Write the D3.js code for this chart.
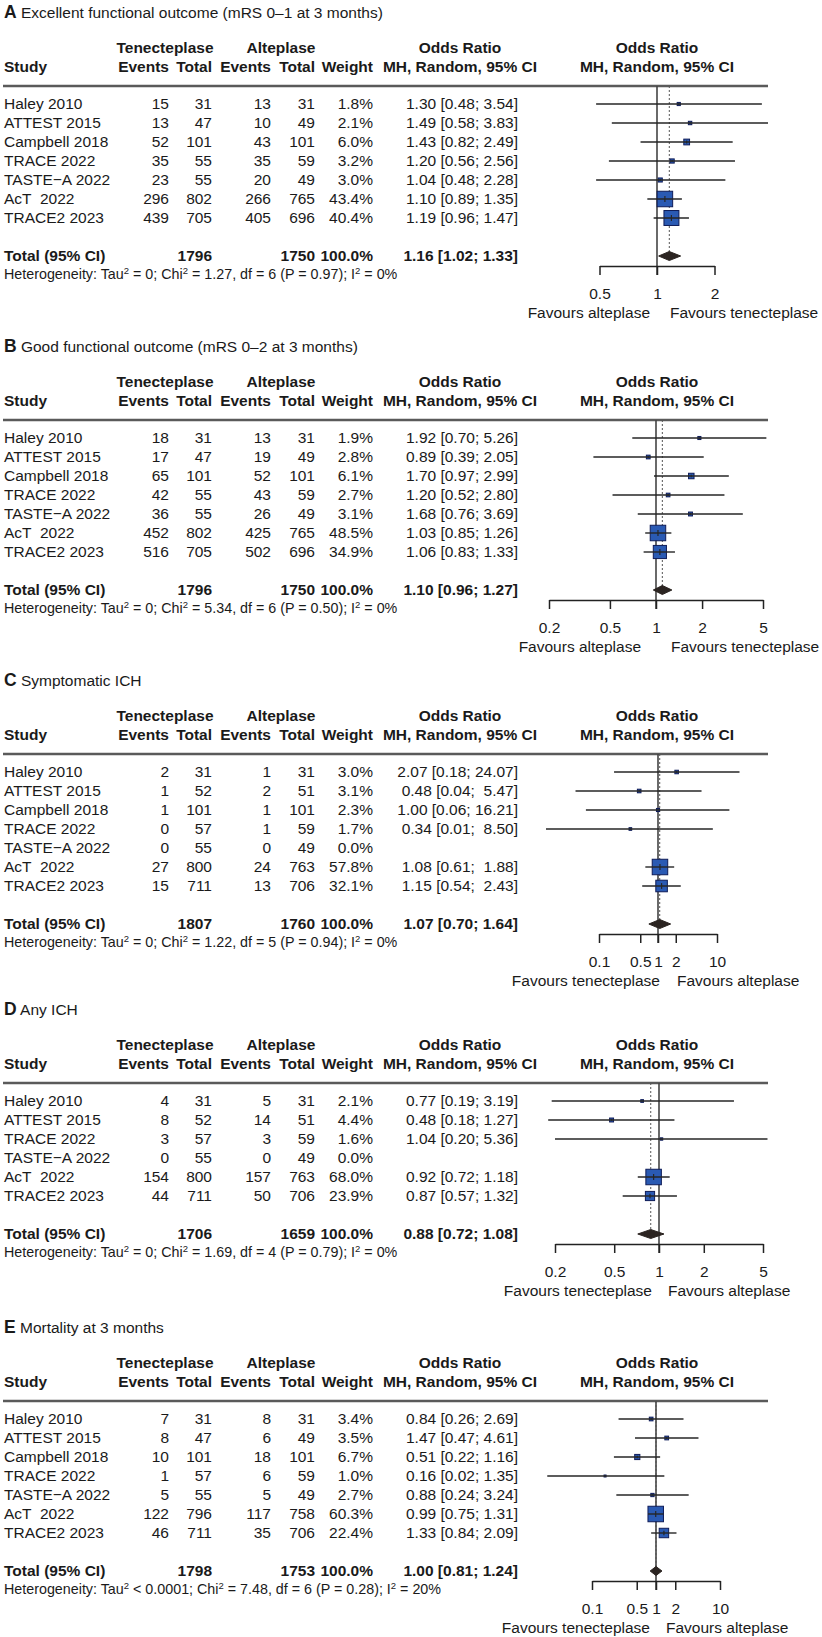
<!DOCTYPE html>
<html>
<head>
<meta charset="utf-8">
<script src="https://cdn.jsdelivr.net/npm/d3@7"></script>
<style>
  body { margin: 0; background: #fff; }
  text { font-family: 'Liberation Sans', Arial, sans-serif; fill: #1a1a1a; white-space: pre; }
</style>
</head>
<body>
<div id="chart"></div>
<script>
/* global d3 */

// ---- data ----
const letters = ['A', 'B', 'C', 'D', 'E']
const titles = [
  'Excellent functional outcome (mRS 0–1 at 3 months)',
  'Good functional outcome (mRS 0–2 at 3 months)',
  'Symptomatic ICH',
  'Any ICH',
  'Mortality at 3 months'
]

const studies7 = ['Haley 2010', 'ATTEST 2015', 'Campbell 2018', 'TRACE 2022', 'TASTE−A 2022', 'AcT  2022', 'TRACE2 2023']
const studies6 = ['Haley 2010', 'ATTEST 2015', 'TRACE 2022', 'TASTE−A 2022', 'AcT  2022', 'TRACE2 2023']

// A - excellent outcome
const evTnkA = [15, 13, 52, 35, 23, 296, 439]
const nTnkA = [31, 47, 101, 55, 55, 802, 705]
const evAltA = [13, 10, 43, 35, 20, 266, 405]
const nAltA = [31, 49, 101, 59, 49, 765, 696]
const weightA = [1.8, 2.1, 6.0, 3.2, 3.0, 43.4, 40.4]
const orA = [1.30, 1.49, 1.43, 1.20, 1.04, 1.10, 1.19]
const loA = [0.48, 0.58, 0.82, 0.56, 0.48, 0.89, 0.96]
const hiA = [3.54, 3.83, 2.49, 2.56, 2.28, 1.35, 1.47]
const totalA = [1796, 1750]
const pooledA = [1.16, 1.02, 1.33]
const hetA = ['= 0', '1.27', '6', '0.97', '0%']
const ticksA = [0.5, 1, 2]

// B - good outcome
const evTnkB = [18, 17, 65, 42, 36, 452, 516]
const nTnkB = [31, 47, 101, 55, 55, 802, 705]
const evAltB = [13, 19, 52, 43, 26, 425, 502]
const nAltB = [31, 49, 101, 59, 49, 765, 696]
const weightB = [1.9, 2.8, 6.1, 2.7, 3.1, 48.5, 34.9]
const orB = [1.92, 0.89, 1.70, 1.20, 1.68, 1.03, 1.06]
const loB = [0.70, 0.39, 0.97, 0.52, 0.76, 0.85, 0.83]
const hiB = [5.26, 2.05, 2.99, 2.80, 3.69, 1.26, 1.33]
const totalB = [1796, 1750]
const pooledB = [1.10, 0.96, 1.27]
const hetB = ['= 0', '5.34', '6', '0.50', '0%']
const ticksB = [0.2, 0.5, 1, 2, 5]

// C - symptomatic ICH
const evTnkC = [2, 1, 1, 0, 0, 27, 15]
const nTnkC = [31, 52, 101, 57, 55, 800, 711]
const evAltC = [1, 2, 1, 1, 0, 24, 13]
const nAltC = [31, 51, 101, 59, 49, 763, 706]
const weightC = [3.0, 3.1, 2.3, 1.7, 0.0, 57.8, 32.1]
const orC = [2.07, 0.48, 1.00, 0.34, null, 1.08, 1.15]
const loC = [0.18, 0.04, 0.06, 0.01, null, 0.61, 0.54]
const hiC = [24.07, 5.47, 16.21, 8.50, null, 1.88, 2.43]
const totalC = [1807, 1760]
const pooledC = [1.07, 0.70, 1.64]
const hetC = ['= 0', '1.22', '5', '0.94', '0%']
const ticksC = [0.1, 0.5, 1, 2, 10]

// D - any ICH
const evTnkD = [4, 8, 3, 0, 154, 44]
const nTnkD = [31, 52, 57, 55, 800, 711]
const evAltD = [5, 14, 3, 0, 157, 50]
const nAltD = [31, 51, 59, 49, 763, 706]
const weightD = [2.1, 4.4, 1.6, 0.0, 68.0, 23.9]
const orD = [0.77, 0.48, 1.04, null, 0.92, 0.87]
const loD = [0.19, 0.18, 0.20, null, 0.72, 0.57]
const hiD = [3.19, 1.27, 5.36, null, 1.18, 1.32]
const totalD = [1706, 1659]
const pooledD = [0.88, 0.72, 1.08]
const hetD = ['= 0', '1.69', '4', '0.79', '0%']
const ticksD = [0.2, 0.5, 1, 2, 5]

// E - mortality
const evTnkE = [7, 8, 10, 1, 5, 122, 46]
const nTnkE = [31, 47, 101, 57, 55, 796, 711]
const evAltE = [8, 6, 18, 6, 5, 117, 35]
const nAltE = [31, 49, 101, 59, 49, 758, 706]
const weightE = [3.4, 3.5, 6.7, 1.0, 2.7, 60.3, 22.4]
const orE = [0.84, 1.47, 0.51, 0.16, 0.88, 0.99, 1.33]
const loE = [0.26, 0.47, 0.22, 0.02, 0.24, 0.75, 0.84]
const hiE = [2.69, 4.61, 1.16, 1.35, 3.24, 1.31, 2.09]
const totalE = [1798, 1753]
const pooledE = [1.00, 0.81, 1.24]
const hetE = ['< 0.0001', '7.48', '6', '0.28', '20%']
const ticksE = [0.1, 0.5, 1, 2, 10]

const favA = ['Favours alteplase', 'Favours tenecteplase']
const favC = ['Favours tenecteplase', 'Favours alteplase']

const panels = [
  { studies: studies7, evT: evTnkA, nT: nTnkA, evA: evAltA, nA: nAltA, w: weightA, or: orA, lo: loA, hi: hiA, total: totalA, pooled: pooledA, het: hetA, ticks: ticksA, fav: favA },
  { studies: studies7, evT: evTnkB, nT: nTnkB, evA: evAltB, nA: nAltB, w: weightB, or: orB, lo: loB, hi: hiB, total: totalB, pooled: pooledB, het: hetB, ticks: ticksB, fav: favA },
  { studies: studies7, evT: evTnkC, nT: nTnkC, evA: evAltC, nA: nAltC, w: weightC, or: orC, lo: loC, hi: hiC, total: totalC, pooled: pooledC, het: hetC, ticks: ticksC, fav: favC },
  { studies: studies6, evT: evTnkD, nT: nTnkD, evA: evAltD, nA: nAltD, w: weightD, or: orD, lo: loD, hi: hiD, total: totalD, pooled: pooledD, het: hetD, ticks: ticksD, fav: favC },
  { studies: studies7, evT: evTnkE, nT: nTnkE, evA: evAltE, nA: nAltE, w: weightE, or: orE, lo: loE, hi: hiE, total: totalE, pooled: pooledE, het: hetE, ticks: ticksE, fav: favC }
]

// ---- layout ----
const width = 822,
      height = 1637,
      rowH = 19,
      fs = 15.5

// where each panel sits (first study row) and its log axis span
const layout = [
  { y0: 104, xRange: [599.5, 714.5], favX: [650, 670] },
  { y0: 438, xRange: [549, 763], favX: [641, 671] },
  { y0: 772, xRange: [599, 717], favX: [660, 677] },
  { y0: 1101, xRange: [555, 763], favX: [652, 668] },
  { y0: 1419, xRange: [592, 720], favX: [650, 666] }
]

const col = { study: 4, evT: 169, nT: 212, evA: 271, nA: 315, w: 373, or: 518, orHead: 460, plotMid: 657, left: 546, right: 768 }

const svg = d3.select('#chart')
  .append('svg')
  .attr('width', width)
  .attr('height', height)

let txt = (g, x, y, s, anchor = 'start', bold = false, size = fs) =>
  g.append('text')
    .attr('x', x)
    .attr('y', y)
    .attr('dy', '0.35em')
    .attr('text-anchor', anchor)
    .attr('font-size', size)
    .attr('font-weight', bold ? 'bold' : 'normal')
    .text(s)

let fmtCI = (or, lo, hi, hiWidth) =>
  `${or.toFixed(2)} [${lo.toFixed(2)}; ${hi.toFixed(2).padStart(hiWidth, ' ')}]`

let drawPanel = (p, lay, i) => {
  const g = svg.append('g')
  const y0 = lay.y0
  const n = p.studies.length
  const yRule = y0 - 18
  const yTotal = y0 + (n + 1) * rowH
  const yAxis = yTotal + 10

  const x = d3.scaleLog().domain(d3.extent(p.ticks)).range(lay.xRange)
  const box = d3.scaleSqrt().domain([0, d3.max(p.w)]).range([0, 15.5])
  const clampX = v => Math.max(col.left, Math.min(col.right, x(v)))

  // title
  const t = g.append('text').attr('x', 4).attr('y', y0 - 92).attr('dy', '0.35em')
  t.append('tspan').attr('font-weight', 'bold').attr('font-size', 17.5).text(letters[i])
  t.append('tspan').attr('font-size', fs).text(' ' + titles[i])

  // column headers
  txt(g, 165, y0 - 56, 'Tenecteplase', 'middle', true)
  txt(g, 281, y0 - 56, 'Alteplase', 'middle', true)
  txt(g, col.orHead, y0 - 56, 'Odds Ratio', 'middle', true)
  txt(g, col.plotMid, y0 - 56, 'Odds Ratio', 'middle', true)
  txt(g, col.study, y0 - 37, 'Study', 'start', true)
  txt(g, col.evT, y0 - 37, 'Events', 'end', true)
  txt(g, col.nT, y0 - 37, 'Total', 'end', true)
  txt(g, col.evA, y0 - 37, 'Events', 'end', true)
  txt(g, col.nA, y0 - 37, 'Total', 'end', true)
  txt(g, col.w, y0 - 37, 'Weight', 'end', true)
  txt(g, col.orHead, y0 - 37, 'MH, Random, 95% CI', 'middle', true)
  txt(g, col.plotMid, y0 - 37, 'MH, Random, 95% CI', 'middle', true)

  g.append('line')
    .attr('x1', 3).attr('x2', col.right)
    .attr('y1', yRule).attr('y2', yRule)
    .attr('stroke', '#5a5a5a')
    .attr('stroke-width', 2.5)

  // study rows
  const rows = p.studies.map((s, k) => ({
    name: s, evT: p.evT[k], nT: p.nT[k], evA: p.evA[k], nA: p.nA[k],
    w: p.w[k], or: p.or[k], lo: p.lo[k], hi: p.hi[k], y: y0 + k * rowH
  }))
  const hiWidth = d3.max(rows.filter(r => r.hi != null), r => r.hi.toFixed(2).length)

  rows.forEach(r => {
    txt(g, col.study, r.y, r.name)
    txt(g, col.evT, r.y, r.evT, 'end')
    txt(g, col.nT, r.y, r.nT, 'end')
    txt(g, col.evA, r.y, r.evA, 'end')
    txt(g, col.nA, r.y, r.nA, 'end')
    txt(g, col.w, r.y, r.w.toFixed(1) + '%', 'end')
    if (r.or != null) txt(g, col.or, r.y, fmtCI(r.or, r.lo, r.hi, hiWidth), 'end')
  })

  // total row + heterogeneity
  txt(g, col.study, yTotal, 'Total (95% CI)', 'start', true)
  txt(g, col.nT, yTotal, p.total[0], 'end', true)
  txt(g, col.nA, yTotal, p.total[1], 'end', true)
  txt(g, col.w, yTotal, '100.0%', 'end', true)
  txt(g, col.or, yTotal, fmtCI(p.pooled[0], p.pooled[1], p.pooled[2], 4), 'end', true)

  const h = g.append('text').attr('x', col.study).attr('y', yTotal + 18).attr('dy', '0.35em').attr('font-size', 14.3)
  let sup = () => h.append('tspan').attr('dy', -5).attr('font-size', 9.5).text('2')
  h.append('tspan').text('Heterogeneity: Tau')
  sup()
  h.append('tspan').attr('dy', 5).text(` ${p.het[0]}; Chi`)
  sup()
  h.append('tspan').attr('dy', 5).text(` = ${p.het[1]}, df = ${p.het[2]} (P = ${p.het[3]}); I`)
  sup()
  h.append('tspan').attr('dy', 5).text(` = ${p.het[4]}`)

  // reference line at 1 and dotted line at pooled estimate
  g.append('line')
    .attr('x1', x(1)).attr('x2', x(1))
    .attr('y1', yRule).attr('y2', yAxis + 9)
    .attr('stroke', '#444')
    .attr('stroke-width', 1.6)

  g.append('line')
    .attr('x1', x(p.pooled[0])).attr('x2', x(p.pooled[0]))
    .attr('y1', yRule).attr('y2', yTotal + 5)
    .attr('stroke', '#555')
    .attr('stroke-width', 1)
    .attr('stroke-dasharray', '2,2')

  const est = rows.filter(r => r.or != null)

  // weight squares
  g.selectAll('rect.box')
    .data(est)
    .enter()
    .append('rect')
    .attr('class', 'box')
    .attr('x', d => x(d.or) - box(d.w) / 2)
    .attr('y', d => d.y - box(d.w) / 2)
    .attr('width', d => box(d.w))
    .attr('height', d => box(d.w))
    .attr('fill', '#2a5ab3')
    .attr('stroke', '#0f1c58')
    .attr('stroke-width', 1)

  // confidence intervals
  g.selectAll('line.ci')
    .data(est)
    .enter()
    .append('line')
    .attr('class', 'ci')
    .attr('x1', d => clampX(d.lo))
    .attr('x2', d => clampX(d.hi))
    .attr('y1', d => d.y)
    .attr('y2', d => d.y)
    .attr('stroke', '#262626')
    .attr('stroke-width', 1.4)

  g.selectAll('line.mid')
    .data(est)
    .enter()
    .append('line')
    .attr('class', 'mid')
    .attr('x1', d => x(d.or))
    .attr('x2', d => x(d.or))
    .attr('y1', d => d.y - Math.min(3, box(d.w) / 4))
    .attr('y2', d => d.y + Math.min(3, box(d.w) / 4))
    .attr('stroke', '#262626')
    .attr('stroke-width', 1.2)

  // pooled diamond
  const [pe, pl, ph] = p.pooled
  g.append('path')
    .attr('d', `M${x(pl)},${yTotal}L${x(pe)},${yTotal - 4.5}L${x(ph)},${yTotal}L${x(pe)},${yTotal + 4.5}Z`)
    .attr('fill', '#2b2421')
    .attr('stroke', '#2b2421')

  // axis
  g.append('g')
    .attr('transform', `translate(0, ${yAxis})`)
    .call(d3.axisBottom(x)
      .tickValues(p.ticks)
      .tickFormat(d => d)
      .tickSize(9)
      .tickSizeOuter(0)
      .tickPadding(13))
    .call(a => a.attr('font-size', fs).attr('font-family', null))
    .call(a => a.selectAll('line, path').attr('stroke', '#222').attr('stroke-width', 1.5))

  txt(g, lay.favX[0], yAxis + 47, p.fav[0], 'end')
  txt(g, lay.favX[1], yAxis + 47, p.fav[1], 'start')
}

panels.forEach((p, i) => drawPanel(p, layout[i], i))
</script>
</body>
</html>
